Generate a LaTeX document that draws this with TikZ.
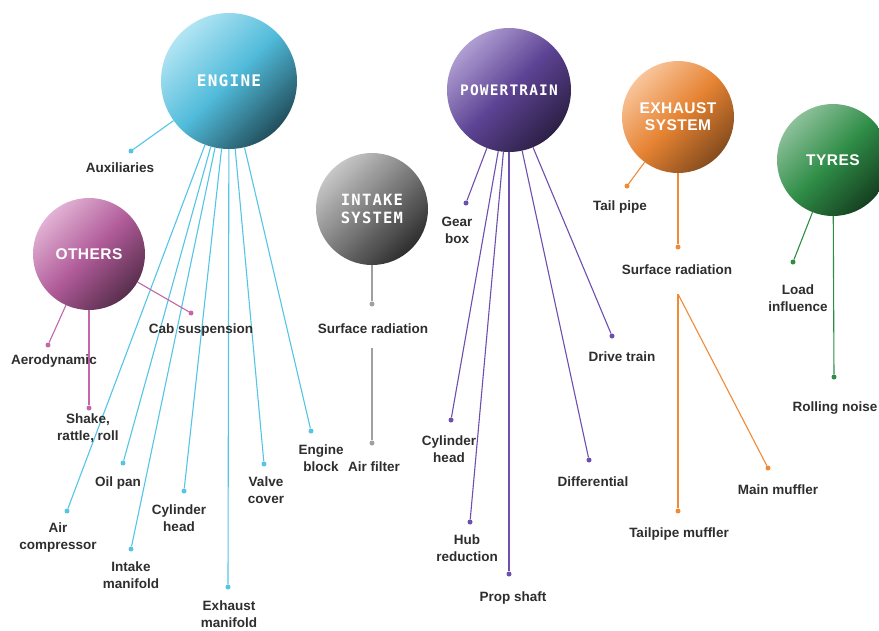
\documentclass[tikz,border=0pt]{standalone}
\usepackage{fontspec}
\setmainfont{Liberation Sans}
\newfontfamily\balltt{DejaVu Sans Mono}[LetterSpace=8]
\newfontfamily\ballsf{Liberation Sans}[LetterSpace=3]
\definecolor{txt}{HTML}{2E2E2E}
\definecolor{engc}{HTML}{55C5E6}
\definecolor{othc}{HTML}{C466AA}
\definecolor{intc}{HTML}{A0A0A0}
\definecolor{ptc}{HTML}{6E4FAE}
\definecolor{exc}{HTML}{F28A35}
\definecolor{tyc}{HTML}{2F8D47}
\tikzset{
  ball/.style={circle, inner sep=0pt, text=white, align=center},
  tilt/.style={shading angle=45},
  lbl/.style={text=txt, align=center, font=\bfseries\fontsize{13.5}{17}\selectfont, inner sep=1pt},
  dotn/.style={circle, inner sep=0pt, minimum size=5pt, fill=#1},
  conn/.style={draw=#1, line width=1.1pt},
}
\begin{document}
\begin{tikzpicture}[x=1pt,y=-1pt]
\useasboundingbox (0,0) rectangle (879,630);
\fill[white] (0,0) rectangle (879,630);

% circles
\node[ball, minimum size=136pt, top color=engc!45!white, bottom color=black!60!engc, middle color=engc!95!black, tilt,
      font=\balltt\bfseries\fontsize{16}{19}\selectfont] (engine) at (229,81) {ENGINE};
\node[ball, minimum size=112pt, top color=othc!50!white, bottom color=black!55!othc, middle color=othc!90!black, tilt,
      font=\ballsf\bfseries\fontsize{15.5}{18}\selectfont] (others) at (89,254) {OTHERS};
\node[ball, minimum size=112pt, top color=black!22, bottom color=black!82, middle color=black!52, tilt,
      font=\balltt\bfseries\fontsize{15.5}{18}\selectfont] (intake) at (372,209) {INTAKE\\SYSTEM};
\node[ball, minimum size=124pt, top color=ptc!55!white, bottom color=black!60!ptc, middle color=ptc!85!black, tilt,
      font=\balltt\bfseries\fontsize{14.5}{18}\selectfont] (power) at (509,90) {POWERTRAIN};
\node[ball, minimum size=112pt, top color=exc!50!white, bottom color=black!45!exc, middle color=exc!95!black, tilt,
      font=\ballsf\bfseries\fontsize{15.5}{17}\selectfont] (exhaust) at (678,117) {EXHAUST\\SYSTEM};
\node[ball, minimum size=112pt, top color=tyc!55!white, bottom color=black!55!tyc, middle color=tyc, tilt,
      font=\ballsf\bfseries\fontsize{15.5}{18}\selectfont] (tyres) at (833,160) {TYRES};

% dots
\node[dotn=engc] (d-aux) at (131,151) {};
\node[dotn=engc] (d-ac) at (67,511) {};
\node[dotn=engc] (d-op) at (123,463) {};
\node[dotn=engc] (d-im) at (131,549) {};
\node[dotn=engc] (d-ch) at (184,491) {};
\node[dotn=engc] (d-em) at (228,587) {};
\node[dotn=engc] (d-vc) at (264,464) {};
\node[dotn=engc] (d-eb) at (311,431) {};

\node[dotn=othc] (d-cab) at (191,313) {};
\node[dotn=othc] (d-aer) at (48,345) {};
\node[dotn=othc] (d-shk) at (89,408) {};

\node[dotn=intc] (d-isr) at (372,304) {};
\node[dotn=intc] (d-iaf) at (372,443) {};
\coordinate (i-top) at (372,348);

\node[dotn=ptc] (d-gb) at (466,203) {};
\node[dotn=ptc] (d-pch) at (451,420) {};
\node[dotn=ptc] (d-hub) at (470,522) {};
\node[dotn=ptc] (d-ps) at (509,574) {};
\node[dotn=ptc] (d-dif) at (589,460) {};
\node[dotn=ptc] (d-dt) at (612,336) {};

\node[dotn=exc] (d-tp) at (627,186) {};
\node[dotn=exc] (d-esr) at (678,247) {};
\coordinate (ex-apex) at (678,294);
\node[dotn=exc] (d-tpm) at (678,511) {};
\node[dotn=exc] (d-mm) at (768,468) {};

\node[dotn=tyc] (d-li) at (793,262) {};
\node[dotn=tyc] (d-rn) at (834,377) {};

% connectors
\foreach \d in {d-aux,d-ac,d-op,d-im,d-ch,d-em,d-vc,d-eb}{\draw[conn=engc] (engine) -- (\d);}
\foreach \d in {d-cab,d-aer,d-shk}{\draw[conn=othc] (others) -- (\d);}
\draw[conn=intc] (intake) -- (d-isr);
\draw[conn=intc] (i-top) -- (d-iaf);
\foreach \d in {d-gb,d-pch,d-hub,d-ps,d-dif,d-dt}{\draw[conn=ptc] (power) -- (\d);}
\draw[conn=exc] (exhaust) -- (d-tp);
\draw[conn=exc] (exhaust) -- (d-esr);
\draw[conn=exc] (ex-apex) -- (d-tpm);
\draw[conn=exc] (ex-apex) -- (d-mm);
\draw[conn=tyc] (tyres) -- (d-li);
\draw[conn=tyc] (tyres) -- (d-rn);

% labels
\node[lbl] (t-aux) at (120,168) {Auxiliaries};
\node[lbl] (t-cab) at (201,330) {Cab suspension};
\node[lbl] (t-aer) at (54,361) {Aerodynamic};
\node[lbl] (t-shk) at (88,428) {Shake,\\rattle, roll};
\node[lbl] (t-op) at (118,483) {Oil pan};
\node[lbl] (t-ac) at (58,538) {Air\\compressor};
\node[lbl] (t-im) at (131,575) {Intake\\manifold};
\node[lbl] (t-ch) at (179,518) {Cylinder\\head};
\node[lbl] (t-em) at (229,614) {Exhaust\\manifold};
\node[lbl] (t-vc) at (266,490) {Valve\\cover};
\node[lbl] (t-eb) at (321,458) {Engine\\block};
\node[lbl] (t-isr) at (373,329) {Surface radiation};
\node[lbl] (t-iaf) at (374,467) {Air filter};
\node[lbl] (t-gb) at (457,230) {Gear\\box};
\node[lbl] (t-pch) at (449,449) {Cylinder\\head};
\node[lbl] (t-hub) at (467,548) {Hub\\reduction};
\node[lbl] (t-ps) at (513,598) {Prop shaft};
\node[lbl] (t-dif) at (593,482) {Differential};
\node[lbl] (t-dt) at (622,357) {Drive train};
\node[lbl] (t-tp) at (620,207) {Tail pipe};
\node[lbl] (t-esr) at (677,270) {Surface radiation};
\node[lbl] (t-tpm) at (679,534) {Tailpipe muffler};
\node[lbl] (t-mm) at (778,490) {Main muffler};
\node[lbl] (t-li) at (798,298) {Load\\influence};
\node[lbl] (t-rn) at (835,408) {Rolling noise};
\end{tikzpicture}
\end{document}
